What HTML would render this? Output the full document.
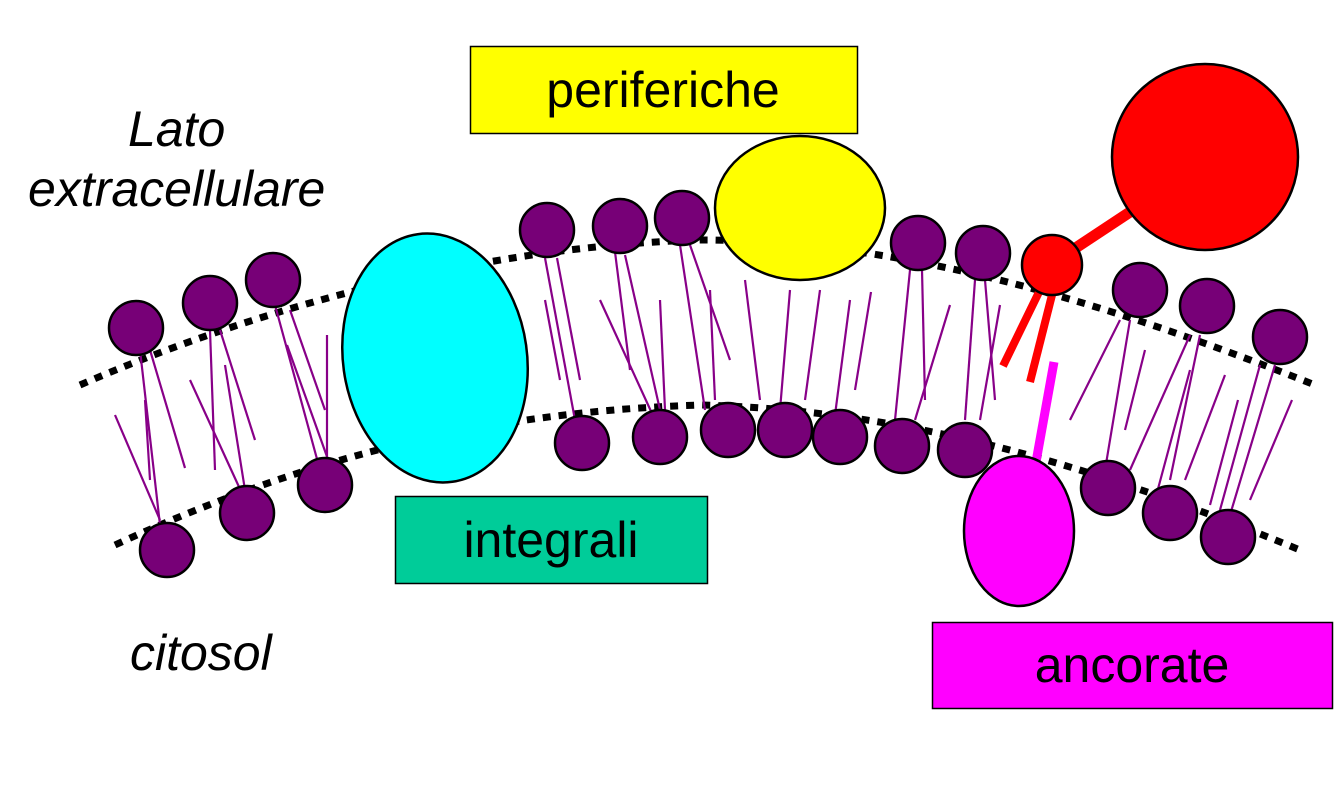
<!DOCTYPE html>
<html><head><meta charset="utf-8"><style>
html,body{margin:0;padding:0;background:#fff;}
svg{display:block;}
text{font-family:"Liberation Sans",sans-serif;}
</style></head><body>
<svg width="1340" height="805" viewBox="0 0 1340 805">
<g fill="none" stroke="#000" stroke-width="7" stroke-dasharray="8 8">
<path d="M80 385 C300 290 520 245 700 240 C900 240 1100 300 1315 385"/>
<path d="M115 545 C300 460 480 412 700 405 C900 410 1080 460 1300 550"/>
</g>
<g stroke="#880088" stroke-width="2.2">
<line x1="140" y1="350" x2="160" y2="525"/><line x1="150" y1="350" x2="185" y2="468"/><line x1="115" y1="415" x2="160" y2="520"/><line x1="145" y1="400" x2="150" y2="480"/>
<line x1="210" y1="330" x2="215" y2="470"/><line x1="220" y1="330" x2="255" y2="440"/><line x1="190" y1="380" x2="245" y2="500"/><line x1="225" y1="365" x2="245" y2="490"/>
<line x1="275" y1="305" x2="320" y2="470"/><line x1="290" y1="310" x2="325" y2="410"/><line x1="287" y1="345" x2="330" y2="465"/><line x1="327" y1="335" x2="327" y2="460"/>
<line x1="545" y1="258" x2="575" y2="420"/><line x1="557" y1="258" x2="580" y2="380"/><line x1="545" y1="300" x2="560" y2="380"/>
<line x1="615" y1="252" x2="630" y2="370"/><line x1="600" y1="300" x2="655" y2="420"/><line x1="625" y1="255" x2="660" y2="410"/>
<line x1="680" y1="245" x2="705" y2="410"/><line x1="690" y1="245" x2="730" y2="360"/><line x1="710" y1="290" x2="715" y2="400"/><line x1="660" y1="300" x2="665" y2="410"/>
<line x1="745" y1="280" x2="760" y2="400"/><line x1="790" y1="290" x2="780" y2="410"/><line x1="820" y1="290" x2="805" y2="400"/><line x1="850" y1="300" x2="835" y2="415"/>
<line x1="871" y1="292" x2="855" y2="390"/><line x1="910" y1="270" x2="895" y2="420"/><line x1="922" y1="270" x2="925" y2="400"/><line x1="950" y1="305" x2="915" y2="420"/>
<line x1="975" y1="280" x2="965" y2="420"/><line x1="985" y1="280" x2="995" y2="400"/><line x1="1000" y1="305" x2="980" y2="420"/>
<line x1="1120" y1="320" x2="1070" y2="420"/><line x1="1130" y1="320" x2="1105" y2="470"/><line x1="1145" y1="350" x2="1125" y2="430"/>
<line x1="1190" y1="335" x2="1130" y2="470"/><line x1="1200" y1="335" x2="1170" y2="480"/><line x1="1190" y1="370" x2="1155" y2="500"/><line x1="1225" y1="375" x2="1185" y2="480"/>
<line x1="1260" y1="365" x2="1220" y2="510"/><line x1="1275" y1="365" x2="1230" y2="515"/><line x1="1292" y1="400" x2="1250" y2="500"/><line x1="1238" y1="400" x2="1210" y2="505"/>
</g>
<g fill="#770077" stroke="#000" stroke-width="2.5">
<circle cx="136" cy="328" r="27"/><circle cx="210" cy="303" r="27"/><circle cx="273" cy="280" r="27"/>
<circle cx="547" cy="230" r="27"/><circle cx="620" cy="226" r="27"/><circle cx="682" cy="218" r="27"/>
<circle cx="918" cy="243" r="27"/><circle cx="983" cy="253" r="27"/><circle cx="1140" cy="290" r="27"/><circle cx="1207" cy="306" r="27"/><circle cx="1280" cy="337" r="27"/>
<circle cx="167" cy="550" r="27"/><circle cx="247" cy="513" r="27"/><circle cx="325" cy="485" r="27"/>
<circle cx="582" cy="443" r="27"/><circle cx="660" cy="437" r="27"/><circle cx="728" cy="430" r="27"/><circle cx="785" cy="430" r="27"/><circle cx="840" cy="437" r="27"/><circle cx="902" cy="446" r="27"/><circle cx="965" cy="450" r="27"/>
<circle cx="1108" cy="488" r="27"/><circle cx="1170" cy="513" r="27"/><circle cx="1228" cy="537" r="27"/>
</g>
<ellipse cx="435" cy="358" rx="92" ry="125" fill="#00FFFF" stroke="#000" stroke-width="2.5" transform="rotate(-8 435 358)"/>
<ellipse cx="800" cy="208" rx="85" ry="72" fill="#FFFF00" stroke="#000" stroke-width="2.5"/>
<line x1="1065" y1="255" x2="1130" y2="212" stroke="#f00" stroke-width="11"/>
<circle cx="1205" cy="157" r="93" fill="#f00" stroke="#000" stroke-width="2.5"/>
<line x1="1040" y1="290" x2="1003" y2="366" stroke="#f00" stroke-width="8"/>
<line x1="1052" y1="295" x2="1030" y2="382" stroke="#f00" stroke-width="8"/>
<circle cx="1052" cy="265" r="30" fill="#f00" stroke="#000" stroke-width="2.5"/>
<line x1="1054" y1="362" x2="1036" y2="462" stroke="#FF00FF" stroke-width="9"/>
<ellipse cx="1019" cy="531" rx="55" ry="75" fill="#FF00FF" stroke="#000" stroke-width="2.5"/>
<rect x="470.5" y="46.5" width="387" height="87" fill="#FFFF00" stroke="#000" stroke-width="1.5"/>
<rect x="395.5" y="496.5" width="312" height="87" fill="#00CC99" stroke="#000" stroke-width="1.5"/>
<rect x="932.5" y="622.5" width="400" height="86" fill="#FF00FF" stroke="#000" stroke-width="1.5"/>
<g font-size="50" fill="#000" text-anchor="middle">
<text x="663" y="107">periferiche</text>
<text x="551" y="557">integrali</text>
<text x="1132" y="682">ancorate</text>
</g>
<g font-size="50" font-style="italic" fill="#000">
<text x="128" y="146">Lato</text>
<text x="28" y="206">extracellulare</text>
<text x="130" y="670">citosol</text>
</g>
</svg>
</body></html>
